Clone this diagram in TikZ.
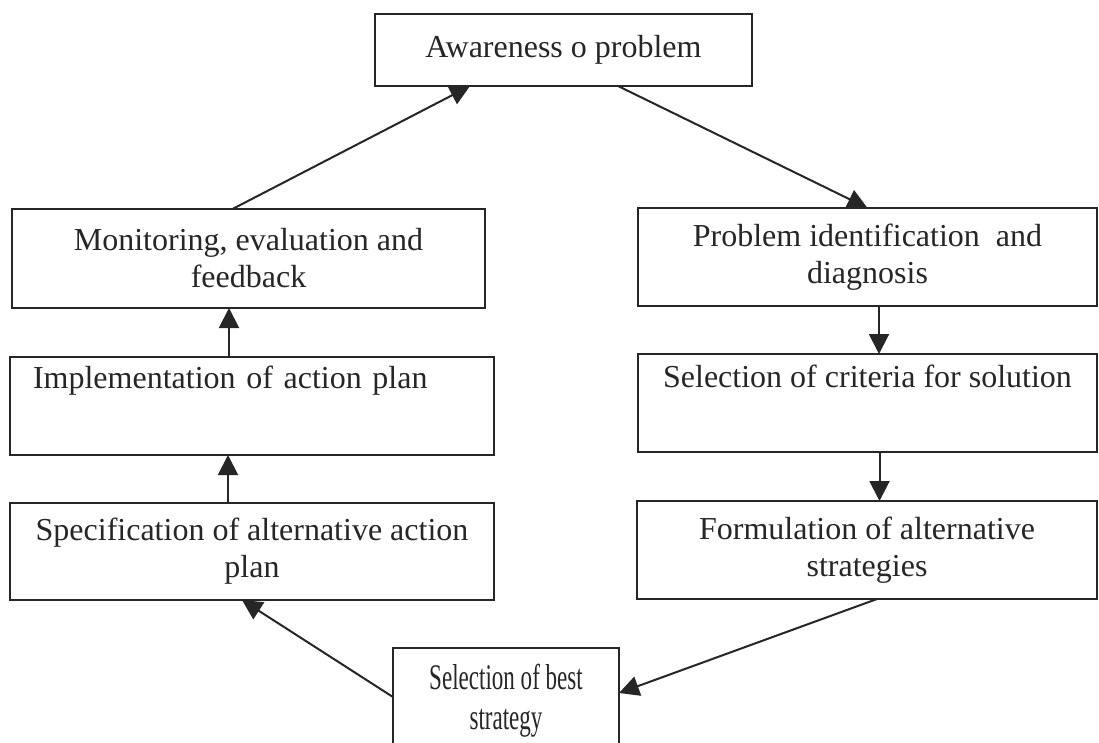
\documentclass[tikz,border=0pt]{standalone}
\usepackage{fontspec}
\setmainfont{Liberation Serif}
\newfontfamily\condfont[FakeStretch=0.64]{Liberation Serif}
\usetikzlibrary{arrows.meta}
\begin{document}
\begin{tikzpicture}[x=1pt,y=-1pt,
  box/.style={draw=black!85, line width=2pt, inner sep=0pt, outer sep=0pt,
    align=center, font=\fontsize{32}{37}\selectfont, text=black!85},
  link/.style={line width=2pt, draw=black!85, fill=black!85,
    -{Triangle[length=20pt,width=20pt]}}]
\useasboundingbox (0,0) rectangle (1099,742);
\clip (0,0) rectangle (1099,742);
\fill[white] (0,0) rectangle (1099,742);

\node[box, minimum width=377, minimum height=72] (aw) at (563.5,50) {Awareness o problem};
\node[box, minimum width=473, minimum height=99] (mon) at (248.5,258.5) {Monitoring, evaluation and\\feedback};
\node[box, minimum width=484, minimum height=98, align=left, text width=438, inner xsep=23] (impl) at (252,406) {Implementation of action plan\\[10pt]\strut};
\node[box, minimum width=484, minimum height=97] (spec) at (252,551.5) {Specification of alternative action\\plan};
\node[box, minimum width=459, minimum height=98] (prob) at (867.5,257) {Problem identification~ and\\diagnosis};
\node[box, minimum width=459, minimum height=98] (sel) at (867.5,403) {Selection of criteria for solution\\[6pt]\strut};
\node[box, minimum width=460, minimum height=98] (form) at (867,550) {Formulation of alternative\\strategies};
\node[box, minimum width=226, minimum height=106, font=\condfont\fontsize{36}{40}\selectfont] (best) at (506,701) {Selection of best\\strategy};

\draw[link] ([xshift=54.5]aw.south) -- (prob.north);
\draw[link] ([xshift=-16]mon.north) -- ([xshift=-93.5]aw.south);
\draw[link] ([xshift=-23]impl.north) -- ([xshift=-23]impl.north |- mon.south);
\draw[link] ([xshift=-24]spec.north) -- ([xshift=-24]spec.north |- impl.south);
\draw[link] ([yshift=4]best.west) -- ([xshift=-10]spec.south);
\draw[link] ([xshift=10]form.south) -- ([yshift=8]best.east);
\draw[link] ([xshift=11.5]prob.south) -- ([xshift=11.5]prob.south |- sel.north);
\draw[link] ([xshift=12]sel.south) -- ([xshift=12]sel.south |- form.north);
\end{tikzpicture}
\end{document}
